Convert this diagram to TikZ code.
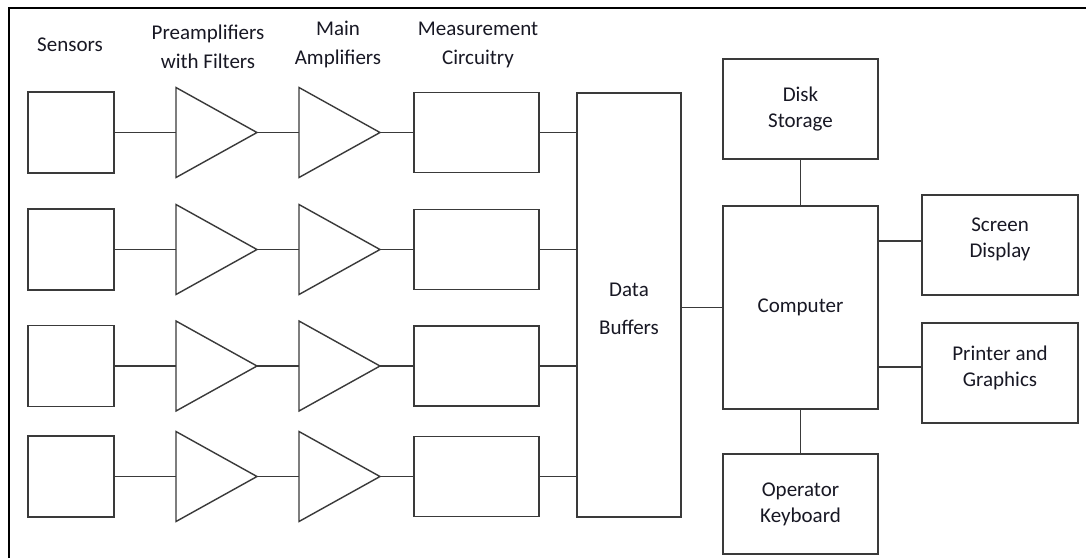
\documentclass[tikz,border=0pt]{standalone}
\usepackage{fontspec}
\setmainfont{Carlito}
\definecolor{wire}{RGB}{58,58,58}
\definecolor{ink}{RGB}{24,24,36}
\begin{document}
\begin{tikzpicture}[x=1pt,y=-1pt,
  box/.style={draw=wire,line width=1.4pt,fill=white,inner sep=0pt,
    text=ink,align=center,font=\fontsize{21}{26}\selectfont},
  boxtext/.style={text=ink,align=center,inner sep=0pt,font=\fontsize{21}{26}\selectfont},
  head/.style={text=ink,align=center,inner sep=0pt,font=\fontsize{21}{29}\selectfont},
  wired/.style={draw=wire,line width=1.4pt},
  amp/.style={draw=wire,line width=1.4pt,line join=miter,fill=white}]
\useasboundingbox (0,0) rectangle (1086,558);
\fill[white] (0,0) rectangle (1086,558);
% outer frame (left and top edges inside the page)
\draw[line width=2.2pt,black] (9,558) -- (9,7.6) -- (1086,7.6);

% column headings
\node[head] (hSens) at (70,45) {Sensors};
\node[head] (hPre)  at (208,46.5) {Preamplifiers\\with Filters};
\node[head] (hMain) at (338,44.5) {Main\\Amplifiers};
\node[head] (hMeas) at (478,44.5) {Measurement\\Circuitry};

% central blocks
\node[box,minimum width=104pt,minimum height=424pt,
      label={[boxtext,font=\fontsize{21}{38}\selectfont,yshift=-4pt]center:Data\\Buffers}] (buf) at (629,305) {};
\node[box,minimum width=155pt,minimum height=203pt] (comp) at (800.5,307.5) {Computer};
\node[box,minimum width=155pt,minimum height=100pt] (disk) at (800.5,109) {Disk\\Storage};
\node[box,minimum width=155pt,minimum height=100pt] (kbd)  at (800.5,504) {Operator\\Keyboard};
\node[box,minimum width=156pt,minimum height=100pt,
      label={[boxtext,yshift=6pt]center:Screen\\Display}] (scr) at (1000,245) {};
\node[box,minimum width=156pt,minimum height=100pt,
      label={[boxtext,yshift=5.5pt]center:Printer and\\Graphics}] (prn) at (1000,373) {};

% four identical sensor channels
\foreach \r/\y in {1/132.5,2/249.5,3/366,4/476.5}{
  \node[box,minimum width=86pt,minimum height=81pt] (sen\r) at (71,\y) {};
  \coordinate (preIn\r)  at (176,\y);
  \coordinate (preOut\r) at (257,\y);
  \coordinate (mainIn\r) at (299,\y);
  \coordinate (mainOut\r) at (380,\y);
  \path[amp] (preIn\r) ++(0,-45) -- (preOut\r) -- ++(-81,45) -- cycle;
  \path[amp] (mainIn\r) ++(0,-45) -- (mainOut\r) -- ++(-81,45) -- cycle;
  \node[box,minimum width=125pt,minimum height=80pt] (meas\r) at (476.5,\y) {};
  \draw[wired] (sen\r.east) -- (preIn\r);
  \draw[wired] (preOut\r) -- (mainIn\r);
  \draw[wired] (mainOut\r) -- (meas\r.west);
  \draw[wired] (meas\r.east) -- (meas\r.east -| buf.west);
}

% computer connections
\draw[wired] (buf.east |- comp.west) -- (comp.west);
\draw[wired] (disk.south) -- (disk.south |- comp.north);
\draw[wired] (comp.south) -- (comp.south |- kbd.north);
\draw[wired] ([yshift=4pt]scr.west -| comp.east) -- ([yshift=4pt]scr.west);
\draw[wired] ([yshift=6pt]prn.west -| comp.east) -- ([yshift=6pt]prn.west);
\end{tikzpicture}
\end{document}
